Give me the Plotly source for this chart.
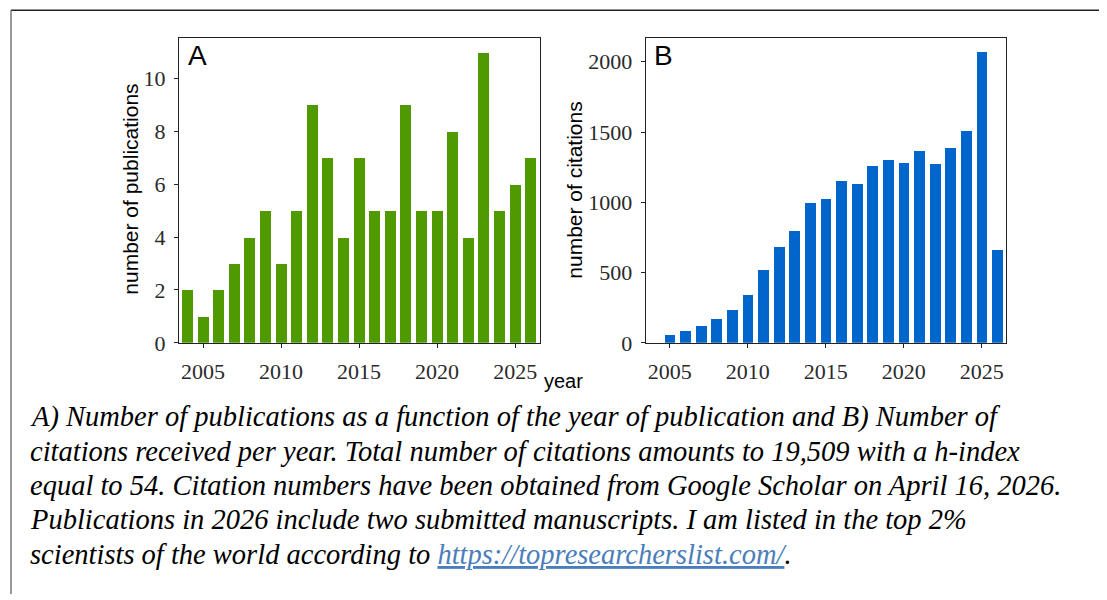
import plotly.graph_objects as go

years = list(range(2004, 2027))
publications = [2, 1, 2, 3, 4, 5, 3, 5, 9, 7, 4, 7, 5, 5, 9, 5, 5, 8, 4, 11, 5, 6, 7]
cit_years = list(range(2005, 2027))
citations = [62, 85, 125, 170, 233, 340, 519, 683, 798, 998, 1026, 1155, 1133,
             1262, 1305, 1283, 1369, 1276, 1390, 1512, 2069, 662]
xticks = [2005, 2010, 2015, 2020, 2025]
yticks_a = [0, 2, 4, 6, 8, 10]
yticks_b = [0, 500, 1000, 1500, 2000]
caption_lines = [
    "A) Number of publications as a function of the year of publication and B) Number of",
    "citations received per year. Total number of citations amounts to 19,509 with a h-index",
    "equal to 54. Citation numbers have been obtained from Google Scholar on April 16, 2026.",
    "Publications in 2026 include two submitted manuscripts. I am listed in the top 2%",
    "scientists of the world according to "
    "<span style='color:#4a7ebb'><u>https://topresearcherslist.com/</u></span>.",
]

# page keeps the browser's 8px body margin; visible page height is slightly taller than 600
OFF = 8
VIEW_H = 615
W, H = 1107 - 2 * OFF, VIEW_H - 2 * OFF
KY = VIEW_H / 600
GREEN = "#4e9a00"
BLUE = "#0066cc"
SERIF = "Liberation Serif"
SANS = "Liberation Sans"

def px_x(v):
    return (v - OFF) / W

def px_y(v):
    return 1 - (v * KY - OFF) / H

fig = go.Figure()
fig.add_trace(go.Bar(x=years, y=publications, width=0.7, marker=dict(color=GREEN, line=dict(width=0)),
                     xaxis="x", yaxis="y", showlegend=False, hoverinfo="x+y"))
fig.add_trace(go.Bar(x=cit_years, y=citations, width=0.7, marker=dict(color=BLUE, line=dict(width=0)),
                     xaxis="x2", yaxis="y2", showlegend=False, hoverinfo="x+y"))

axis_common = dict(showgrid=False, zeroline=False, showline=True, mirror=True,
                   linecolor="#222", linewidth=1, ticks="outside", ticklen=4,
                   tickcolor="#222", tickfont=dict(family=SERIF, size=22, color="#2a2a2a"))

fig.update_layout(
    width=W, height=H, margin=dict(l=0, r=0, t=0, b=0),
    paper_bgcolor="white", plot_bgcolor="white", bargap=0,
    xaxis=dict(domain=[px_x(179), px_x(539.5)], range=[2003.46, 2026.56],
               tickvals=xticks, anchor="y", ticklabelstandoff=5, **axis_common),
    yaxis=dict(domain=[px_y(341.7), px_y(37.3)], range=[0, 11.55],
               tickvals=yticks_a, anchor="x", ticklabelstandoff=4, **axis_common),
    xaxis2=dict(domain=[px_x(645.7), px_x(1006)], range=[2003.46, 2026.56],
                tickvals=xticks, anchor="y2", ticklabelstandoff=5, **axis_common),
    yaxis2=dict(domain=[px_y(341.7), px_y(37.3)], range=[0, 2172],
                tickvals=yticks_b, anchor="x2", ticklabelstandoff=4, **axis_common),
)

# frame lines around the figure
fig.add_shape(type="line", xref="paper", yref="paper", x0=px_x(11), x1=1, y0=px_y(10), y1=px_y(10),
              line=dict(color="#222", width=1.5))
fig.add_shape(type="line", xref="paper", yref="paper", x0=px_x(11), x1=px_x(11), y0=0, y1=px_y(10),
              line=dict(color="#777", width=1.5))

# panel letters (centre = baseline - 0.3465*size)
fig.add_annotation(text="A", xref="paper", yref="paper", x=px_x(186), y=px_y(65 - 0.3465 * 28),
                   xanchor="left", yanchor="middle", showarrow=False,
                   font=dict(family=SANS, size=28, color="black"))
fig.add_annotation(text="B", xref="paper", yref="paper", x=px_x(652), y=px_y(65 - 0.3465 * 28),
                   xanchor="left", yanchor="middle", showarrow=False,
                   font=dict(family=SANS, size=28, color="black"))

# axis labels
fig.add_annotation(text="number of publications", xref="paper", yref="paper", x=px_x(131), y=px_y(189),
                   xanchor="center", yanchor="middle", textangle=-90, showarrow=False,
                   font=dict(family=SANS, size=21, color="black"))
fig.add_annotation(text="number of citations", xref="paper", yref="paper", x=px_x(575), y=px_y(190),
                   xanchor="center", yanchor="middle", textangle=-90, showarrow=False,
                   font=dict(family=SANS, size=21, color="black"))
fig.add_annotation(text="year", xref="paper", yref="paper", x=px_x(563), y=px_y(380),
                   xanchor="center", yanchor="middle", showarrow=False,
                   font=dict(family=SANS, size=20, color="black"))

# caption, one annotation per line
CAP_SIZE = 28.5
baselines = [425, 459.3, 493.6, 527.9, 562.2]
for line, base in zip(caption_lines, baselines):
    fig.add_annotation(text="<i>" + line + "</i>", xref="paper", yref="paper",
                       x=px_x(28), y=px_y(base - 0.3375 * CAP_SIZE),
                       xanchor="left", yanchor="middle", align="left", showarrow=False,
                       font=dict(family=SERIF, size=CAP_SIZE, color="black"))

fig.write_html("out.html", config={"displayModeBar": False})
